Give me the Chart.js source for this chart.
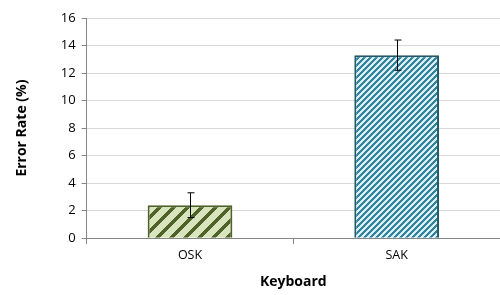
<!DOCTYPE html>
<html>
<head>
<meta charset="utf-8">
<script src="https://cdn.jsdelivr.net/npm/chart.js@4.4.1/dist/chart.umd.min.js"></script>
<style>
  html, body { margin: 0; padding: 0; background: #fff; }
  #wrap { width: 500px; height: 295px; }
</style>
</head>
<body>
<div id="wrap"><canvas id="myChart"></canvas></div>
<script>
var categories = ["OSK", "SAK"];
var errorRate = [2.4, 13.3];
var errorBar = [0.9, 1.1];
var yTicks = [0, 2, 4, 6, 8, 10, 12, 14, 16];

// pixel stripes going up to the right
function stripePattern(bg, fg, period, w) {
  var c = document.createElement("canvas");
  c.width = period;
  c.height = period;
  var g = c.getContext("2d");
  g.fillStyle = bg;
  g.fillRect(0, 0, period, period);
  g.fillStyle = fg;
  for (var y = 0; y < period; y++) {
    for (var x = 0; x < period; x++) {
      if ((x + y) % period < w) g.fillRect(x, y, 1, 1);
    }
  }
  return g.createPattern(c, "repeat");
}

var greenFill = stripePattern("#d7e4bd", "#4f6228", 14, 5);
var blueFill = stripePattern("#dbeef4", "#31849b", 6, 3);

var errorBars = {
  id: "errorBars",
  afterDatasetsDraw: function (chart) {
    var ctx = chart.ctx;
    var meta = chart.getDatasetMeta(0);
    var y = chart.scales.y;
    ctx.save();
    ctx.strokeStyle = "#000";
    ctx.lineWidth = 1;
    meta.data.forEach(function (bar, i) {
      var x = Math.round(bar.x) + 0.5;
      var top = y.getPixelForValue(errorRate[i] + errorBar[i]);
      var bot = y.getPixelForValue(errorRate[i] - errorBar[i]);
      ctx.beginPath();
      ctx.moveTo(x, top);
      ctx.lineTo(x, bot);
      ctx.moveTo(x - 3, top);
      ctx.lineTo(x + 4, top);
      ctx.moveTo(x - 3, bot);
      ctx.lineTo(x + 4, bot);
      ctx.stroke();
    });
    ctx.restore();
  }
};

var ctx1 = document.getElementById("myChart").getContext("2d");
var myChart = new Chart(ctx1, {
  type: "bar",
  data: {
    labels: categories,
    datasets: [
      {
        label: "Error Rate",
        data: errorRate,
        backgroundColor: [greenFill, blueFill],
        borderColor: ["#4f6228", "#215968"],
        borderWidth: 2,
        barPercentage: 1,
        categoryPercentage: 0.41,
      },
    ],
  },
  options: {
    responsive: true,
    maintainAspectRatio: false,
    animation: false,
    layout: { padding: { top: 18, right: 0, left: 14, bottom: 5 } },
    plugins: {
      legend: { display: false },
      tooltip: { enabled: false },
    },
    scales: {
      x: {
        grid: {
          offset: true,
          drawOnChartArea: false,
          color: "#868686",
          tickLength: 6,
        },
        border: { color: "#868686", width: 1 },
        ticks: {
          color: "#000",
          font: { family: "Open Sans", size: 12.5 },
          padding: 4,
        },
        title: {
          display: true,
          text: "Keyboard",
          color: "#000",
          font: { family: "Open Sans", size: 14, weight: "bold" },
          padding: { top: 6, bottom: 0 },
        },
      },
      y: {
        min: 0,
        max: 16,
        afterBuildTicks: function (axis) {
          axis.ticks = yTicks.map(function (v) { return { value: v }; });
        },
        grid: {
          color: "#d9d9d9",
          tickColor: "#868686",
          tickLength: 5,
        },
        border: { color: "#868686", width: 1 },
        ticks: {
          color: "#000",
          font: { family: "Open Sans", size: 13 },
          padding: 6,
        },
        title: {
          display: true,
          text: "Error Rate (%)",
          color: "#000",
          font: { family: "Open Sans", size: 14, weight: "bold" },
          padding: { top: 0, bottom: 24 },
        },
      },
    },
  },
  plugins: [errorBars],
});
</script>
</body>
</html>
